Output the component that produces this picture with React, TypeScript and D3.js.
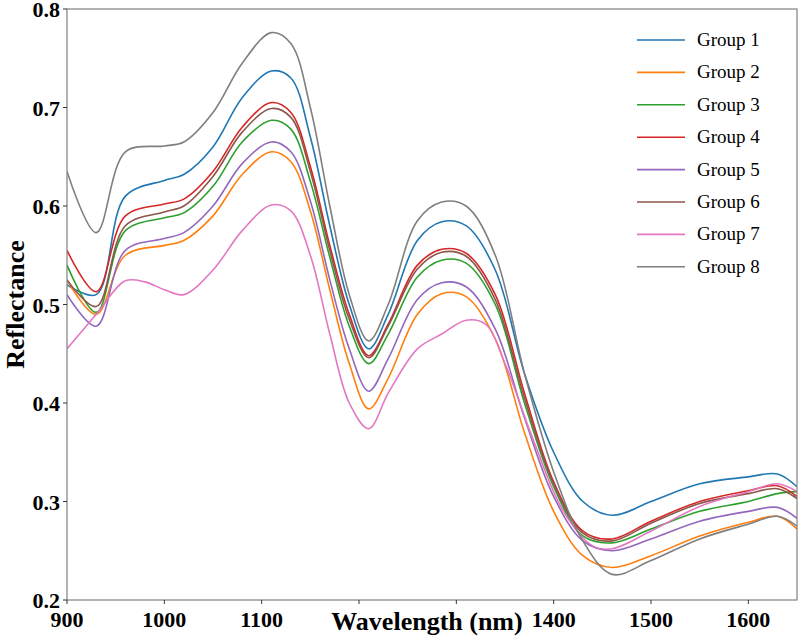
import React from "react";
import * as d3 from "d3";

const wl = [900,930,960,1000,1020,1050,1080,1110,1130,1150,1170,1190,1210,1230,1260,1285,1310,1340,1370,1400,1430,1460,1500,1550,1600,1630,1650];
const g1 = [0.52,0.51,0.61,0.626,0.632,0.66,0.71,0.737,0.73,0.67,0.58,0.50,0.455,0.49,0.565,0.584,0.58,0.535,0.43,0.35,0.30,0.286,0.30,0.318,0.325,0.328,0.315];
const g2 = [0.525,0.49,0.55,0.56,0.565,0.59,0.632,0.655,0.645,0.595,0.515,0.44,0.394,0.425,0.49,0.511,0.508,0.465,0.37,0.29,0.245,0.233,0.245,0.265,0.279,0.285,0.272];
const g3 = [0.54,0.492,0.575,0.588,0.593,0.62,0.665,0.687,0.678,0.625,0.548,0.478,0.44,0.47,0.528,0.545,0.542,0.5,0.40,0.315,0.265,0.258,0.272,0.29,0.30,0.308,0.31];
const g4 = [0.555,0.513,0.59,0.602,0.607,0.635,0.68,0.705,0.695,0.64,0.56,0.49,0.448,0.48,0.54,0.556,0.552,0.51,0.41,0.32,0.27,0.262,0.28,0.30,0.311,0.316,0.305];
const g5 = [0.51,0.478,0.555,0.567,0.573,0.60,0.643,0.665,0.655,0.605,0.525,0.455,0.412,0.445,0.505,0.522,0.518,0.475,0.385,0.305,0.26,0.25,0.262,0.28,0.29,0.294,0.283];
const g6 = [0.525,0.498,0.58,0.594,0.60,0.63,0.675,0.699,0.69,0.635,0.555,0.485,0.446,0.478,0.536,0.553,0.549,0.505,0.405,0.318,0.268,0.26,0.278,0.298,0.308,0.313,0.303];
const wl7 = [900,930,960,980,1000,1020,1050,1080,1110,1130,1150,1170,1190,1210,1230,1260,1285,1310,1330,1350,1380,1410,1440,1460,1500,1550,1600,1630,1650];
const g7 = [0.455,0.49,0.524,0.523,0.515,0.51,0.535,0.575,0.601,0.595,0.55,0.47,0.40,0.374,0.41,0.455,0.47,0.484,0.48,0.44,0.36,0.29,0.255,0.252,0.27,0.295,0.31,0.318,0.31];
const g8 = [0.635,0.573,0.655,0.661,0.665,0.695,0.745,0.776,0.765,0.70,0.60,0.51,0.463,0.50,0.585,0.604,0.60,0.55,0.43,0.33,0.26,0.226,0.24,0.262,0.277,0.285,0.275];

const names = ["Group 1","Group 2","Group 3","Group 4","Group 5","Group 6","Group 7","Group 8"];
const colors = ["#1f77b4","#ff7f0e","#2ca02c","#d62728","#9467bd","#8c564b","#e377c2","#7f7f7f"];
const xTicks = [900,1000,1100,1200,1300,1400,1500,1600];
const xTickLabels = ["900","1000","1100","","","1400","1500","1600"];
const yTicks = [0.2,0.3,0.4,0.5,0.6,0.7,0.8];

export default function App() {
  const W = 800, H = 637;
  const L = 67, R = 797, T = 9, B = 600;
  const x = d3.scaleLinear().domain([900,1650]).range([L,R]);
  const y = d3.scaleLinear().domain([0.2,0.8]).range([B,T]);
  const series = [g1,g2,g3,g4,g5,g6,g7,g8].map((v,i)=>({xs: i===6?wl7:wl, v}));
  const line = d3.line<[number,number]>().x(d=>x(d[0])).y(d=>y(d[1])).curve(d3.curveCatmullRom.alpha(0.5));
  const font = "'Liberation Serif', 'Times New Roman', serif";
  return (
    <svg width={W} height={H} style={{position:"absolute",left:0,top:0,background:"#fff"}} fontFamily={font}>
      <defs><clipPath id="c"><rect x={L} y={T} width={R-L} height={B-T}/></clipPath></defs>
      <g clipPath="url(#c)">
        {series.map((s,i)=>(
          <path key={i} d={line(s.xs.map((w,j)=>[w,s.v[j]]) as [number,number][]) || ""} fill="none" stroke={colors[i]} strokeWidth={1.6}/>
        ))}
      </g>
      <rect x={L} y={T} width={R-L} height={B-T} fill="none" stroke="#808080" strokeWidth={1.2}/>
      {xTicks.map((t,i)=>(
        <g key={t}>
          <line x1={x(t)} x2={x(t)} y1={B} y2={B+4} stroke="#333"/>
          <text x={x(t)} y={B+27} textAnchor="middle" fontSize={22} fontWeight="bold">{xTickLabels[i]}</text>
        </g>
      ))}
      {yTicks.map(t=>(
        <g key={t}>
          <line x1={L-4} x2={L} y1={y(t)} y2={y(t)} stroke="#333"/>
          <text x={L-7} y={y(t)+8} textAnchor="end" fontSize={22} fontWeight="bold">{t.toFixed(1)}</text>
        </g>
      ))}
      <text x={(L+R)/2 - 5} y={630} textAnchor="middle" fontSize={26} fontWeight="bold">Wavelength (nm)</text>
      <text transform={`translate(24,${(T+B)/2}) rotate(-90)`} textAnchor="middle" fontSize={26} fontWeight="bold">Reflectance</text>
      {names.map((n,i)=>(
        <g key={n}>
          <line x1={637} x2={685} y1={40+i*32.4} y2={40+i*32.4} stroke={colors[i]} strokeWidth={1.6}/>
          <text x={697} y={46+i*32.4} fontSize={19}>{n}</text>
        </g>
      ))}
    </svg>
  );
}
